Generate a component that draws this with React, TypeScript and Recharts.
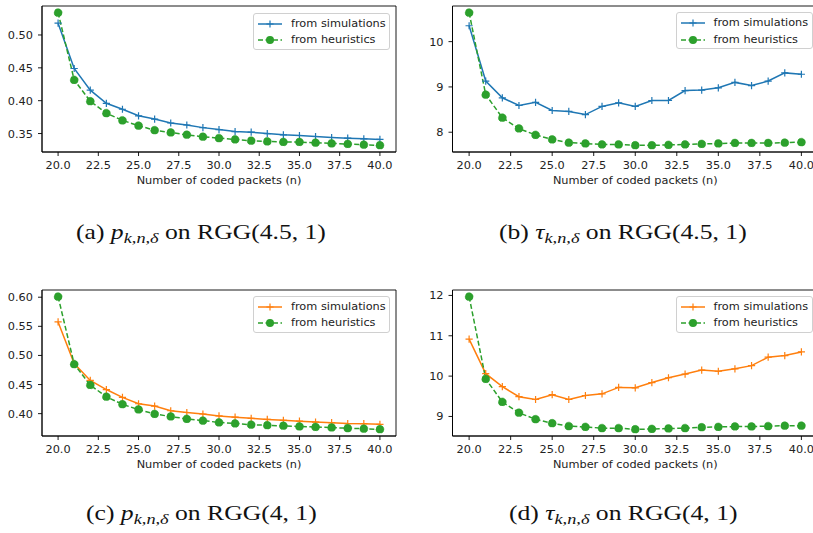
import React from 'react';
import { LineChart, Line, XAxis, YAxis, ReferenceArea } from 'recharts';

const N = [20, 21, 22, 23, 24, 25, 26, 27, 28, 29, 30, 31, 32, 33, 34, 35, 36, 37, 38, 39, 40];
const X_TICKS = [20, 22.5, 25, 27.5, 30, 32.5, 35, 37.5, 40];

// (a) p on RGG(4.5, 1)
const simA = [0.518, 0.449, 0.416, 0.396, 0.387, 0.377, 0.372, 0.366, 0.363, 0.359, 0.356, 0.353, 0.352, 0.35, 0.348, 0.347, 0.3455, 0.344, 0.343, 0.342, 0.341];
const heurA = [0.534, 0.4316, 0.399, 0.381, 0.37, 0.362, 0.355, 0.3515, 0.348, 0.345, 0.343, 0.341, 0.339, 0.338, 0.337, 0.337, 0.336, 0.335, 0.334, 0.333, 0.332];
const ticksA = [0.35, 0.4, 0.45, 0.5];

// (b) tau on RGG(4.5, 1)
const simB = [10.35, 9.13, 8.76, 8.59, 8.66, 8.48, 8.46, 8.39, 8.57, 8.65, 8.57, 8.7, 8.7, 8.92, 8.93, 8.98, 9.1, 9.03, 9.13, 9.31, 9.28];
const heurB = [10.64, 8.83, 8.32, 8.08, 7.94, 7.84, 7.77, 7.75, 7.73, 7.73, 7.71, 7.71, 7.72, 7.73, 7.74, 7.75, 7.76, 7.76, 7.76, 7.77, 7.78];
const ticksB = [8, 9, 10];

// (c) p on RGG(4, 1)
const simC = [0.5575, 0.486, 0.457, 0.4414, 0.428, 0.417, 0.413, 0.405, 0.402, 0.3994, 0.396, 0.394, 0.392, 0.39, 0.3885, 0.387, 0.3856, 0.3845, 0.383, 0.3827, 0.3816];
const heurC = [0.601, 0.485, 0.449, 0.429, 0.416, 0.407, 0.3994, 0.395, 0.391, 0.388, 0.385, 0.383, 0.381, 0.38, 0.379, 0.378, 0.377, 0.376, 0.375, 0.374, 0.373];
const ticksC = [0.4, 0.45, 0.5, 0.55, 0.6];

// (d) tau on RGG(4, 1)
const simD = [10.917, 10.06, 9.74, 9.49, 9.42, 9.54, 9.42, 9.52, 9.56, 9.72, 9.71, 9.84, 9.96, 10.05, 10.15, 10.12, 10.18, 10.26, 10.47, 10.51, 10.6];
const heurD = [11.97, 9.93, 9.36, 9.09, 8.93, 8.83, 8.76, 8.74, 8.71, 8.71, 8.68, 8.69, 8.7, 8.71, 8.73, 8.74, 8.75, 8.75, 8.76, 8.77, 8.77];
const ticksD = [9, 10, 11, 12];

const BLUE = '#1f77b4';
const ORANGE = '#ff7f0e';
const GREEN = '#2ca02c';
const FONT = '"DejaVu Sans", sans-serif';
const FS = 11.3;

const plusDot = (color: string) => (props: any) => {
  const { cx, cy, index } = props;
  if (cx == null || cy == null) return <g key={index} />;
  return (
    <path
      key={index}
      d={`M${cx - 3.6},${cy}h7.2M${cx},${cy - 3.6}v7.2`}
      stroke={color}
      strokeWidth={1.2}
      fill="none"
    />
  );
};

interface PanelProps {
  left: number;
  top: number;
  yWidth: number;
  marginRight: number;
  sim: number[];
  heur: number[];
  color: string;
  yTicks: number[];
  digits: number;
}

function Panel({ left, top, yWidth, marginRight, sim, heur, color, yTicks, digits }: PanelProps) {
  const data = N.map((n, i) => ({ n, sim: sim[i], heur: heur[i] }));
  const all = [...sim, ...heur];
  const lo = Math.min(...all);
  const hi = Math.max(...all);
  const pad = (hi - lo) * 0.05;
  const yDomain = [lo - pad, hi + pad];

  return (
    <div style={{ position: 'absolute', left, top }}>
      <LineChart
        width={410}
        height={200}
        data={data}
        margin={{ top: 6, right: marginRight, left: 0, bottom: 8 }}
        style={{ fontFamily: FONT }}
      >
        <XAxis
          dataKey="n"
          type="number"
          domain={[19, 41]}
          ticks={X_TICKS}
          tickFormatter={(v: number) => v.toFixed(1)}
          tick={{ fontSize: FS, fill: '#222' }}
          tickSize={4}
          tickMargin={5}
          height={40}
          stroke="#000"
          axisLine={{ stroke: '#000', strokeWidth: 0.9 }}
          tickLine={{ stroke: '#000', strokeWidth: 0.9 }}
          label={{
            value: 'Number of coded packets (n)',
            position: 'insideBottom',
            offset: 8,
            fill: '#222',
            fontSize: FS,
          }}
        />
        <YAxis
          type="number"
          domain={yDomain}
          ticks={yTicks}
          allowDataOverflow
          tickFormatter={(v: number) => v.toFixed(digits)}
          tick={{ fontSize: FS, fill: '#222' }}
          tickSize={4}
          tickMargin={5}
          width={yWidth}
          axisLine={{ stroke: '#000', strokeWidth: 0.9 }}
          tickLine={{ stroke: '#000', strokeWidth: 0.9 }}
        />
        <ReferenceArea
          x1={19}
          x2={41}
          y1={yDomain[0]}
          y2={yDomain[1]}
          fill="none"
          fillOpacity={0}
          stroke="#000"
          strokeWidth={0.9}
          ifOverflow="visible"
        />
        <Line
          dataKey="sim"
          stroke={color}
          strokeWidth={1.5}
          dot={plusDot(color)}
          isAnimationActive={false}
        />
        <Line
          dataKey="heur"
          stroke={GREEN}
          strokeWidth={1.5}
          strokeDasharray="5 2.5"
          dot={{ r: 4, fill: GREEN, stroke: GREEN, strokeWidth: 0.5 }}
          isAnimationActive={false}
        />
      </LineChart>
    </div>
  );
}

function LegendBox({ left, top, color }: { left: number; top: number; color: string }) {
  const row = (y: number, label: string, kind: 'sim' | 'heur') => (
    <div style={{ position: 'absolute', left: 0, top: y - 8, height: 16, width: 137 }}>
      <svg width={30} height={16} style={{ position: 'absolute', left: 3, top: 0 }}>
        {kind === 'sim' ? (
          <>
            <line x1={1} x2={25} y1={8} y2={8} stroke={color} strokeWidth={1.5} />
            <path d="M13,4.4v7.2M9.4,8h7.2" stroke={color} strokeWidth={1.2} />
          </>
        ) : (
          <>
            <line x1={1} x2={25} y1={8} y2={8} stroke={GREEN} strokeWidth={1.5} strokeDasharray="5 2.5" />
            <circle cx={13} cy={8} r={4} fill={GREEN} />
          </>
        )}
      </svg>
      <span
        style={{
          position: 'absolute',
          left: 37,
          top: 0,
          lineHeight: '16px',
          fontSize: FS,
          fontFamily: FONT,
          color: '#222',
          whiteSpace: 'nowrap',
        }}
      >
        {label}
      </span>
    </div>
  );
  return (
    <div
      style={{
        position: 'absolute',
        left,
        top,
        width: 137,
        height: 37,
        boxSizing: 'border-box',
        border: '1px solid #d0d0d0',
        borderRadius: 3,
        background: 'rgba(255,255,255,0.85)',
      }}
    >
      {row(10, 'from simulations', 'sim')}
      {row(26.5, 'from heuristics', 'heur')}
    </div>
  );
}

function Caption({ left, top, tag, sym, rgg }: { left: number; top: number; tag: string; sym: string; rgg: string }) {
  return (
    <div
      style={{
        position: 'absolute',
        left,
        top,
        fontFamily: '"Liberation Serif", serif',
        fontSize: 21,
        lineHeight: '24px',
        whiteSpace: 'nowrap',
        color: '#111',
        transform: 'scaleX(1.22)',
        transformOrigin: 'left center',
      }}
    >
      ({tag}) <i>{sym}</i>
      <sub style={{ fontSize: 15, verticalAlign: '-4px', lineHeight: 0 }}>
        <i>k</i>,<i>n</i>,<i>δ</i>
      </sub>{' '}
      on RGG({rgg})
    </div>
  );
}

export default function App() {
  return (
    <div
      style={{
        position: 'absolute',
        left: 0,
        top: 0,
        width: 813,
        height: 533,
        overflow: 'hidden',
        background: '#fff',
      }}
    >
      <Panel left={0} top={0} yWidth={42} marginRight={14} sim={simA} heur={heurA} color={BLUE} yTicks={ticksA} digits={2} />
      <Panel left={410} top={0} yWidth={42.5} marginRight={2} sim={simB} heur={heurB} color={BLUE} yTicks={ticksB} digits={0} />
      <Panel left={0} top={284} yWidth={42} marginRight={14} sim={simC} heur={heurC} color={ORANGE} yTicks={ticksC} digits={2} />
      <Panel left={410} top={284} yWidth={42.5} marginRight={2} sim={simD} heur={heurD} color={ORANGE} yTicks={ticksD} digits={0} />

      <LegendBox left={253} top={12.5} color={BLUE} />
      <LegendBox left={675.5} top={12} color={BLUE} />
      <LegendBox left={253} top={295.5} color={ORANGE} />
      <LegendBox left={675.5} top={295.5} color={ORANGE} />

      <Caption left={76} top={220} tag="a" sym="p" rgg="4.5, 1" />
      <Caption left={499} top={220} tag="b" sym="τ" rgg="4.5, 1" />
      <Caption left={86} top={501} tag="c" sym="p" rgg="4, 1" />
      <Caption left={509} top={501} tag="d" sym="τ" rgg="4, 1" />
    </div>
  );
}
